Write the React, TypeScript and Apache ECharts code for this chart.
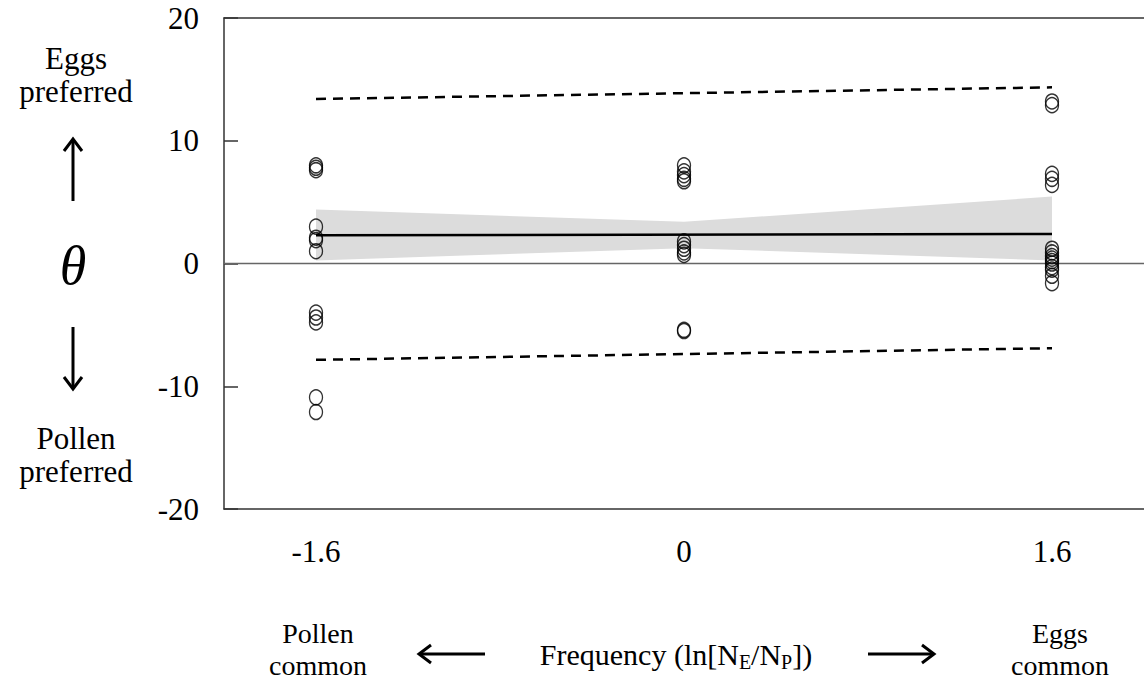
import React, { useEffect, useRef } from "react";
import * as echarts from "echarts";

// x positions (ln[NE/NP])
const xTicks = [-1.6, 0, 1.6];
// observed theta values at each frequency
const thetaLow = [8.0, 7.8, 7.6, 3.0, 2.1, 1.9, 1.0, -4.0, -4.4, -4.8, -10.9, -12.1];
const thetaMid = [8.0, 7.5, 7.2, 6.9, 6.7, 1.8, 1.5, 1.2, 0.9, 0.7, -5.4, -5.5];
const thetaHigh = [13.2, 12.9, 7.3, 6.9, 6.4, 1.2, 0.9, 0.6, 0.4, 0.2, 0.0, -0.3, -0.5, -1.0, -1.6];
// fitted line
const fitX = [-1.6, 1.6];
const fitY = [2.3, 2.4];
// confidence band
const bandX = [-1.6, 0, 1.6];
const bandLower = [0.25, 1.25, 0.25];
const bandUpper = [4.4, 3.4, 5.45];
// prediction interval (dashed)
const predUpper = [13.4, 14.35];
const predLower = [-7.85, -6.9];
// axis
const xMin = -2;
const xMax = 2;
const yMin = -20;
const yMax = 20;
const yStep = 10;

const FONT = "Liberation Serif";

export default function App() {
  const ref = useRef<HTMLDivElement>(null);
  useEffect(() => {
    document.body.style.margin = "0";
    const chart = echarts.init(ref.current!, null, { renderer: "svg" });
    const pts: number[][] = [];
    thetaLow.forEach((v) => pts.push([xTicks[0], v]));
    thetaMid.forEach((v) => pts.push([xTicks[1], v]));
    thetaHigh.forEach((v) => pts.push([xTicks[2], v]));
    const bandData = bandX.map((x, i) => [x, bandLower[i], bandUpper[i]]);

    const txt = (x: number, y: number, text: string, fs = 31, lh = 33) => ({
      type: "text",
      x,
      y,
      style: {
        text,
        fontFamily: FONT,
        fontSize: fs,
        lineHeight: lh,
        fill: "#000",
        align: "center",
        verticalAlign: "middle",
      },
    });

    const option: any = {
      animation: false,
      backgroundColor: "#fff",
      grid: { left: 224, right: 0, top: 18, bottom: 173, outerBoundsMode: "none" },
      xAxis: [
        {
          type: "value",
          min: xMin,
          max: xMax,
          position: "bottom",
          axisLine: { show: true, onZero: false, lineStyle: { color: "#333", width: 1.5 } },
          axisTick: { show: false },
          splitLine: { show: false },
          axisLabel: {
            customValues: xTicks,
            formatter: (v: number) => (v === 0 ? "0" : String(v)),
            color: "#000",
            fontFamily: FONT,
            fontSize: 31,
            margin: 27,
          },
        },
        {
          type: "value",
          min: xMin,
          max: xMax,
          position: "top",
          axisLine: { show: true, onZero: false, lineStyle: { color: "#333", width: 1.5 } },
          axisTick: { show: false },
          axisLabel: { show: false },
          splitLine: { show: false },
        },
      ],
      yAxis: {
        type: "value",
        min: yMin,
        max: yMax,
        interval: yStep,
        axisLine: { show: true, onZero: false, lineStyle: { color: "#333", width: 1.5 } },
        axisTick: { show: true, inside: true, length: 14, lineStyle: { color: "#333", width: 1.5 } },
        splitLine: { show: false },
        axisLabel: {
          color: "#000",
          fontFamily: FONT,
          fontSize: 31,
          margin: 25,
          padding: [16, 0, 0, 0],
        },
      },
      series: [
        {
          type: "custom",
          data: bandData,
          encode: { x: 0, y: [1, 2] },
          z: 1,
          renderItem: (params: any, api: any) => {
            if (params.dataIndex !== 0) return { type: "group", children: [] };
            const lo = bandX.map((x, i) => api.coord([x, bandLower[i]]));
            const hi = bandX.map((x, i) => api.coord([x, bandUpper[i]])).reverse();
            return {
              type: "polygon",
              shape: { points: lo.concat(hi) },
              style: { fill: "#dcdcdc", stroke: "none" },
            };
          },
        },
        {
          type: "line",
          data: [[xMin, 0], [xMax, 0]],
          symbol: "none",
          z: 2,
          lineStyle: { color: "#666", width: 1.5 },
        },
        {
          type: "line",
          data: fitX.map((x, i) => [x, fitY[i]]),
          symbol: "none",
          z: 3,
          lineStyle: { color: "#000", width: 2.5 },
        },
        {
          type: "line",
          data: fitX.map((x, i) => [x, predUpper[i]]),
          symbol: "none",
          z: 3,
          lineStyle: { color: "#000", width: 2.5, type: [10, 7] },
        },
        {
          type: "line",
          data: fitX.map((x, i) => [x, predLower[i]]),
          symbol: "none",
          z: 3,
          lineStyle: { color: "#000", width: 2.5, type: [10, 7] },
        },
        {
          type: "scatter",
          data: pts,
          symbol: "circle",
          symbolSize: [13, 15],
          z: 5,
          itemStyle: { color: "rgba(0,0,0,0)", borderColor: "#000", borderWidth: 1.4 },
        },
      ],
      graphic: [
        txt(76, 75, "Eggs\npreferred"),
        { type: "line", shape: { x1: 73, y1: 201, x2: 73, y2: 140 }, style: { stroke: "#000", lineWidth: 3 } },
        { type: "polyline", shape: { points: [[64, 151], [73, 139], [82, 151]] }, style: { stroke: "#000", lineWidth: 3, fill: "none" } },
        { type: "text", x: 73, y: 266, style: { text: "θ", font: `italic 54px '${FONT}'`, fill: "#000", align: "center", verticalAlign: "middle" } },
        { type: "line", shape: { x1: 73, y1: 327, x2: 73, y2: 388 }, style: { stroke: "#000", lineWidth: 3 } },
        { type: "polyline", shape: { points: [[64, 377], [73, 389], [82, 377]] }, style: { stroke: "#000", lineWidth: 3, fill: "none" } },
        txt(76, 455, "Pollen\npreferred"),

        txt(318, 649, "Pollen\ncommon", 28, 32),
        { type: "line", shape: { x1: 485, y1: 654, x2: 420, y2: 654 }, style: { stroke: "#000", lineWidth: 3 } },
        { type: "polyline", shape: { points: [[431, 645], [419, 654], [431, 663]] }, style: { stroke: "#000", lineWidth: 3, fill: "none" } },
        {
          type: "text",
          x: 676,
          y: 654,
          style: {
            text: "Frequency (ln[N{sub|E}/N{sub|P}])",
            font: `30px '${FONT}'`,
            fill: "#000",
            align: "center",
            verticalAlign: "middle",
            rich: {
              sub: { fontSize: 20, fontFamily: FONT, fill: "#000", padding: [16, 0, 0, 0] },
            },
          },
        },
        { type: "line", shape: { x1: 868, y1: 654, x2: 933, y2: 654 }, style: { stroke: "#000", lineWidth: 3 } },
        { type: "polyline", shape: { points: [[922, 645], [934, 654], [922, 663]] }, style: { stroke: "#000", lineWidth: 3, fill: "none" } },
        txt(1060, 649, "Eggs\ncommon", 28, 32),
      ],
    };
    chart.setOption(option);
    return () => chart.dispose();
  }, []);
  return <div ref={ref} style={{ width: 1144, height: 682 }} />;
}
